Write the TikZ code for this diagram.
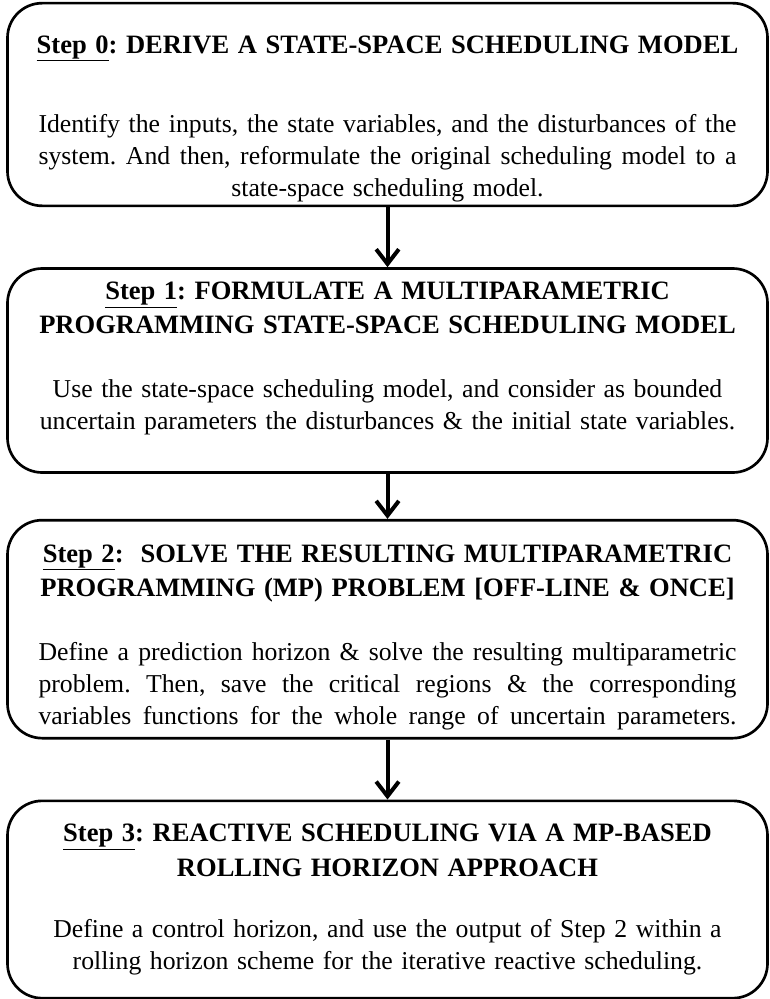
\documentclass[tikz,border=0pt]{standalone}
\usepackage{fontspec}
\setmainfont{Liberation Serif}
\usetikzlibrary{arrows.meta,positioning}
\tikzset{
  stepbox/.style={draw=black,line width=2pt,rounded corners=26pt,fill=white,minimum width=570pt,text width=545pt,align=center,inner sep=0pt,font=\frenchspacing\fontsize{19.3}{24}\selectfont},
  arr/.style={-{Straight Barb[length=11pt,width=17pt]},line width=3pt,draw=black},
}
\newcommand{\ttl}[1]{{\bfseries\fontsize{19.9}{26}\selectfont #1\par}}
\newcommand{\jline}[1]{\makebox[523.5pt][s]{\spaceskip=0.25em plus 1em minus 0.08em\relax #1}}

\begin{document}
\begin{tikzpicture}[x=0.75pt,y=-0.75pt]
  \useasboundingbox (0,0) rectangle (770,999);
  \node[stepbox,minimum height=152pt] (s0) at (387.5,104.5) {\ttl{\rule{0pt}{34.5pt}\underline{Step 0}: DERIVE A STATE-SPACE SCHEDULING MODEL}\vspace{35.5pt}
    \jline{Identify the inputs, the state variables, and the disturbances of the}\\ \jline{system. And then, reformulate the original scheduling model to a}\\ state-space scheduling model.};
  \node[stepbox,minimum height=153pt,below=45pt of s0] (s1) {\ttl{\underline{Step 1}: FORMULATE A MULTIPARAMETRIC\\ PROGRAMMING STATE-SPACE SCHEDULING MODEL}\vspace{24pt}
    Use the state-space scheduling model, and consider as bounded\\ uncertain parameters the disturbances \& the initial state variables.\rule[-22pt]{0pt}{22pt}};
  \node[stepbox,minimum height=163.5pt,below=33.75pt of s1] (s2) {\ttl{\rule{0pt}{25.5pt}\underline{Step 2}:\ \ SOLVE THE RESULTING MULTIPARAMETRIC\\ PROGRAMMING (MP) PROBLEM [OFF-LINE \& ONCE]}\vspace{24pt}
    \jline{Define a prediction horizon \& solve the resulting multiparametric}\\ \jline{problem. Then, save the critical regions \& the corresponding}\\ \jline{variables functions for the whole range of uncertain parameters.}};
  \node[stepbox,minimum height=148pt,below=45pt of s2] (s3) {\ttl{\underline{Step 3}: REACTIVE SCHEDULING VIA A MP-BASED\\ ROLLING HORIZON APPROACH}\vspace{22pt}
    Define a control horizon, and use the output of Step 2 within a\\ rolling horizon scheme for the iterative reactive scheduling.};
  \foreach \a/\b in {s0/s1,s1/s2,s2/s3} \draw[arr] (\a) -- (\b);
\end{tikzpicture}
\end{document}
